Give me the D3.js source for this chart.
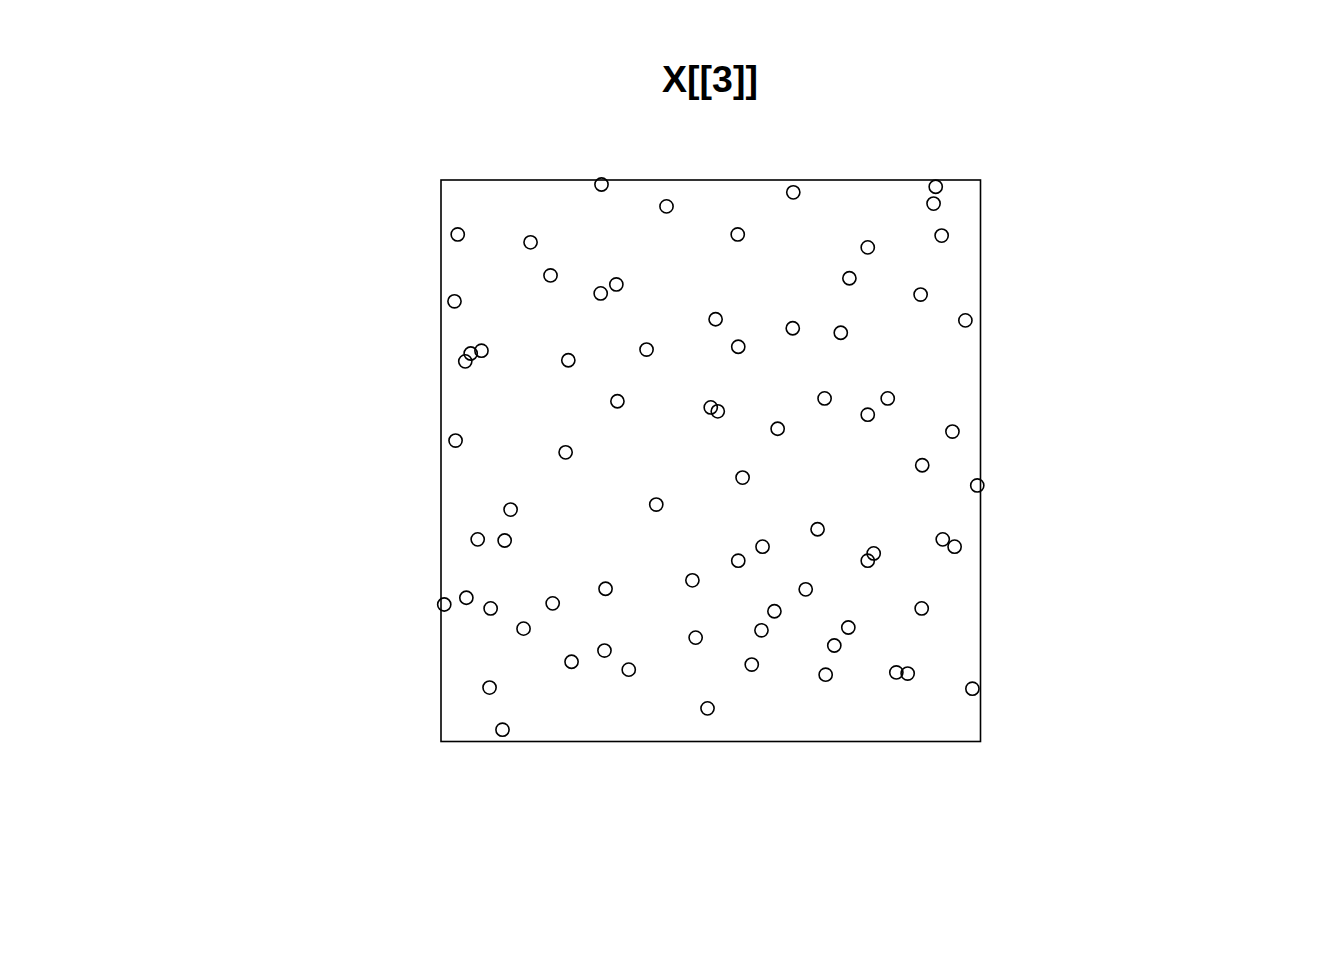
<!DOCTYPE html>
<html>
<head>
<meta charset="utf-8">
<script src="https://cdn.jsdelivr.net/npm/d3@7"></script>
<style>
html,body{margin:0;padding:0;background:#fff;}
svg{display:block;}
</style>
</head>
<body>
<svg id="chart" width="1344" height="960"></svg>
<script>
const title = "X[[3]]";
const xs = [0.2975,0.418,0.653,0.917,0.913,0.031,0.166,0.550,0.928,0.791,
0.203,0.757,0.296,0.325,0.889,0.025,0.509,0.652,0.741,0.972,
0.551,0.055,0.075,0.045,0.236,0.381,0.327,0.500,0.513,0.711,
0.828,0.791,0.624,0.948,0.027,0.231,0.892,0.559,0.994,0.399,
0.129,0.698,0.068,0.118,0.596,0.551,0.802,0.791,0.930,0.952,
0.466,0.305,0.676,0.006,0.047,0.092,0.207,0.891,0.618,0.153,
0.755,0.594,0.472,0.729,0.303,0.242,0.348,0.576,0.713,0.844,
0.865,0.090,0.985,0.494,0.114];
const ys = [0.992,0.953,0.978,0.988,0.958,0.903,0.889,0.903,0.901,0.880,
0.830,0.825,0.798,0.814,0.796,0.784,0.752,0.736,0.728,0.750,
0.703,0.691,0.696,0.677,0.679,0.698,0.606,0.595,0.588,0.611,
0.611,0.582,0.557,0.552,0.536,0.515,0.492,0.470,0.456,0.422,
0.413,0.378,0.360,0.358,0.347,0.322,0.335,0.322,0.360,0.347,
0.287,0.272,0.271,0.244,0.256,0.237,0.246,0.237,0.232,0.201,
0.203,0.198,0.185,0.171,0.162,0.142,0.128,0.137,0.119,0.123,
0.121,0.096,0.094,0.059,0.021];

const svg = d3.select("#chart");
const x = d3.scaleLinear().domain([0,1]).range([441,980.5]);
const y = d3.scaleLinear().domain([0,1]).range([741.5,180]);

svg.append("text")
  .attr("x", 710).attr("y", 92)
  .attr("text-anchor","middle")
  .attr("font-family","Liberation Sans, Arial, sans-serif")
  .attr("font-weight","bold")
  .attr("font-size", 37.5)
  .attr("fill","#000")
  .text(title);

svg.append("rect")
  .attr("x", x(0)).attr("y", y(1))
  .attr("width", x(1)-x(0)).attr("height", y(0)-y(1))
  .attr("fill","none").attr("stroke","#000").attr("stroke-width",1.6);

const pts = xs.map((v,i)=>({x:v,y:ys[i]}));
svg.append("g").selectAll("circle").data(pts).join("circle")
  .attr("cx", d=>x(d.x)).attr("cy", d=>y(d.y))
  .attr("r", 6.6)
  .attr("fill","none").attr("stroke","#000").attr("stroke-width",1.6);
</script>
</body>
</html>
